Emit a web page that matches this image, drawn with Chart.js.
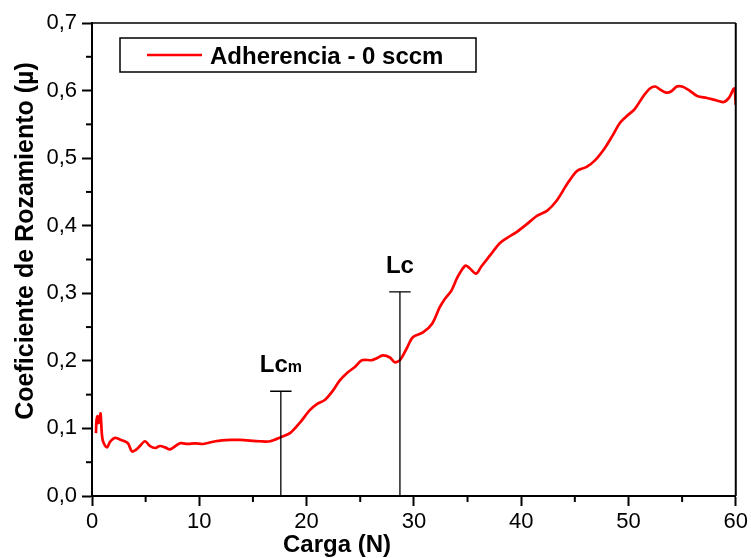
<!DOCTYPE html>
<html>
<head>
<meta charset="utf-8">
<script src="https://cdn.jsdelivr.net/npm/chart.js@4"></script>
<style>
    body { margin: 0; background: #ffffff; }
    #myChart { display: block; }
</style>
</head>
<body>
<canvas id="myChart" width="751" height="558"></canvas>
<script>
// Datos
var carga = [0.37, 0.42, 0.52, 0.6, 0.72, 0.8, 0.93, 1.05, 1.4, 1.68, 2.14, 2.7, 3.35, 3.73, 4.29, 4.94,
    5.4, 5.87, 6.34, 6.8, 7.27, 8.2, 8.94, 9.6, 10.34, 11.5, 12.9, 13.8, 15.65, 16.6, 17.6, 18.45,
    19.4, 20.3, 20.96, 21.7, 22.36, 23.1, 23.85, 24.5, 25.15, 26.1, 26.55, 27.1, 27.77, 28.2, 28.7,
    29.35, 29.9, 30.85, 31.7, 32.4, 32.9, 33.5, 34.1, 34.8, 35.2, 35.8, 36.3, 37.1, 38.0, 38.7,
    39.6, 40.5, 41.5, 42.4, 43.3, 44.3, 45.2, 46.1, 46.9, 47.8, 48.5, 49.2, 49.9, 50.6, 51.4,
    52.0, 52.5, 53.0, 53.5, 54.0, 54.5, 55.0, 55.6, 56.4, 57.3, 58.3, 58.9, 59.4, 59.85, 60.0];
var coeficiente = [0.093, 0.112, 0.118, 0.108, 0.115, 0.122, 0.09, 0.08, 0.072, 0.080, 0.086, 0.083, 0.078, 0.066, 0.071, 0.081,
    0.074, 0.071, 0.074, 0.072, 0.069, 0.078, 0.077, 0.078, 0.077, 0.081, 0.083, 0.083, 0.081, 0.081, 0.087, 0.093,
    0.109, 0.127, 0.136, 0.142, 0.154, 0.171, 0.183, 0.191, 0.201, 0.201, 0.204, 0.208, 0.205, 0.198, 0.201,
    0.219, 0.235, 0.242, 0.255, 0.279, 0.292, 0.304, 0.325, 0.341, 0.337, 0.329, 0.34, 0.356, 0.374, 0.382,
    0.391, 0.402, 0.415, 0.422, 0.437, 0.462, 0.481, 0.487, 0.497, 0.515, 0.533, 0.552, 0.563, 0.573, 0.592,
    0.603, 0.606, 0.601, 0.597, 0.599, 0.606, 0.606, 0.601, 0.592, 0.589, 0.585, 0.583, 0.59, 0.603, 0.579];

var etiquetaSerie = 'Adherencia - 0 sccm';

// Marcadores de carga crítica
var marcadorTexto = ['Lc', 'Lc'];
var marcadorSub = ['m', ''];
var marcadorCarga = [17.6, 28.7];
var marcadorAltura = [0.155, 0.302];

// Ticks
var ticksX = [0, 10, 20, 30, 40, 50, 60];
var ticksY = [0.0, 0.1, 0.2, 0.3, 0.4, 0.5, 0.6, 0.7];
var menoresX = [5, 15, 25, 35, 45, 55];
var menoresY = [0.05, 0.15, 0.25, 0.35, 0.45, 0.55, 0.65];

var fuente = 'Arial, "Liberation Sans", sans-serif';
Chart.defaults.font.family = fuente;
Chart.defaults.color = '#000000';

var puntos = carga.map(function (c, i) {
    return { x: c, y: coeficiente[i] };
});

// Plugin para marco, ticks menores, marcadores, leyenda y títulos
var extras = {
    id: 'extras',
    afterDraw: function (chart) {
        var ctx = chart.ctx;
        var area = chart.chartArea;
        var sx = chart.scales.x;
        var sy = chart.scales.y;

        ctx.save();
        ctx.strokeStyle = '#000000';

        // marco superior y derecho
        ctx.lineWidth = 1.5;
        ctx.beginPath();
        ctx.moveTo(area.left, area.top);
        ctx.lineTo(area.right, area.top);
        ctx.stroke();
        ctx.lineWidth = 2;
        ctx.beginPath();
        ctx.moveTo(area.right, area.top);
        ctx.lineTo(area.right, area.bottom);
        ctx.stroke();

        // ticks menores
        ctx.lineWidth = 2;
        menoresX.forEach(function (v) {
            var px = sx.getPixelForValue(v);
            ctx.beginPath();
            ctx.moveTo(px, area.bottom);
            ctx.lineTo(px, area.bottom + 6);
            ctx.stroke();
        });
        menoresY.forEach(function (v) {
            var py = sy.getPixelForValue(v);
            ctx.beginPath();
            ctx.moveTo(area.left, py);
            ctx.lineTo(area.left - 6, py);
            ctx.stroke();
        });

        // marcadores Lc
        ctx.lineWidth = 1.3;
        ctx.fillStyle = '#000000';
        for (var i = 0; i < marcadorCarga.length; i++) {
            var mx = sx.getPixelForValue(marcadorCarga[i]);
            var my = sy.getPixelForValue(marcadorAltura[i]);
            var izq = sx.getPixelForValue(marcadorCarga[i] - 1);
            var der = sx.getPixelForValue(marcadorCarga[i] + 1);
            ctx.beginPath();
            ctx.moveTo(mx, sy.getPixelForValue(0));
            ctx.lineTo(mx, my);
            ctx.moveTo(izq, my);
            ctx.lineTo(der, my);
            ctx.stroke();

            ctx.font = 'bold 24px ' + fuente;
            var w1 = ctx.measureText(marcadorTexto[i]).width;
            ctx.font = 'bold 16px ' + fuente;
            var w2 = ctx.measureText(marcadorSub[i]).width;
            var x0 = mx - (w1 + w2) / 2;
            ctx.textAlign = 'left';
            ctx.textBaseline = 'alphabetic';
            ctx.font = 'bold 24px ' + fuente;
            ctx.fillText(marcadorTexto[i], x0, my - 19);
            ctx.font = 'bold 16px ' + fuente;
            ctx.fillText(marcadorSub[i], x0 + w1, my - 19);
        }

        // leyenda
        ctx.lineWidth = 1.5;
        ctx.strokeRect(120, 38, 356, 34);
        ctx.strokeStyle = '#ff0000';
        ctx.lineWidth = 2.5;
        ctx.beginPath();
        ctx.moveTo(147, 55);
        ctx.lineTo(202, 55);
        ctx.stroke();
        ctx.font = 'bold 24px ' + fuente;
        ctx.textAlign = 'left';
        ctx.fillText(etiquetaSerie, 210, 64);

        // títulos de ejes
        ctx.textAlign = 'center';
        ctx.font = 'bold 24px ' + fuente;
        ctx.fillText('Carga (N)', 337, 552);

        ctx.translate(33, 241);
        ctx.rotate(-Math.PI / 2);
        ctx.font = 'bold 25px ' + fuente;
        ctx.fillText('Coeficiente de Rozamiento (\u00b5)', 0, 0);
        ctx.restore();
    }
};

var ctx = document.getElementById('myChart').getContext('2d');
var myChart = new Chart(ctx, {
    type: 'line',
    data: {
        datasets: [{
            label: etiquetaSerie,
            data: puntos,
            borderColor: '#ff0000',
            borderWidth: 2.7,
            pointRadius: 0,
            tension: 0.3,
            fill: false
        }]
    },
    options: {
        responsive: false,
        animation: false,
        layout: {
            padding: { top: 23, right: 15, left: 0, bottom: 0 }
        },
        plugins: {
            legend: { display: false },
            tooltip: { enabled: false }
        },
        scales: {
            x: {
                type: 'linear',
                min: 0,
                max: 60,
                afterFit: function (scale) { scale.height = 62; },
                afterBuildTicks: function (scale) {
                    scale.ticks = ticksX.map(function (v) { return { value: v }; });
                },
                border: { display: true, color: '#000000', width: 2 },
                grid: {
                    drawOnChartArea: false,
                    drawTicks: true,
                    tickLength: 10,
                    tickWidth: 2,
                    tickColor: '#000000'
                },
                ticks: {
                    padding: 3,
                    maxRotation: 0,
                    color: '#000000',
                    font: { size: 22 },
                    callback: function (v) { return String(v); }
                }
            },
            y: {
                min: 0,
                max: 0.7,
                afterFit: function (scale) { scale.width = 92; },
                afterBuildTicks: function (scale) {
                    scale.ticks = ticksY.map(function (v) { return { value: v }; });
                },
                border: { display: true, color: '#000000', width: 2 },
                grid: {
                    drawOnChartArea: false,
                    drawTicks: true,
                    tickLength: 10,
                    tickWidth: 2,
                    tickColor: '#000000'
                },
                ticks: {
                    padding: 5,
                    color: '#000000',
                    font: { size: 22 },
                    callback: function (v) { return Number(v).toFixed(1).replace('.', ','); }
                }
            }
        }
    },
    plugins: [extras]
});
</script>
</body>
</html>
